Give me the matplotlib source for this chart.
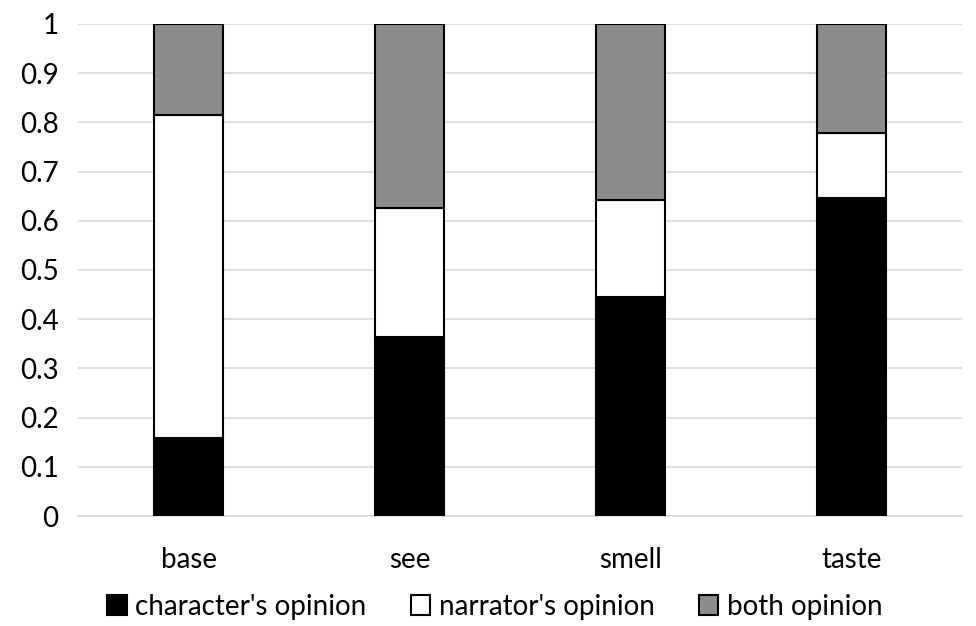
import matplotlib
matplotlib.use('Agg')
import matplotlib.pyplot as plt
import numpy as np

# values
categories = ['base', 'see', 'smell', 'taste']
character = [0.159, 0.363, 0.445, 0.646]
narrator = [0.656, 0.262, 0.197, 0.133]
both = [0.185, 0.375, 0.358, 0.221]

plt.rcParams['font.family'] = ['Lato', 'DejaVu Sans']

fig = plt.figure(figsize=(9.76, 6.26), dpi=100)
ax = fig.add_axes([0.08, 0.1757, 0.9057, 0.786])

x = np.arange(len(categories))
w = 0.31
bottom2 = np.array(character) + np.array(narrator)
ax.bar(x, character, w, color='black', edgecolor='black', linewidth=1.5,
       label="character's opinion", zorder=3)
ax.bar(x, narrator, w, bottom=character, color='white', edgecolor='black',
       linewidth=1.5, label="narrator's opinion", zorder=3)
ax.bar(x, both, w, bottom=bottom2, color='#8c8c8c', edgecolor='black',
       linewidth=1.5, label='both opinion', zorder=3)

ax.set_xlim(-0.5, len(categories) - 0.5)
ax.set_ylim(0, 1)
ax.set_yticks(np.arange(0, 1.01, 0.1))
ax.set_yticklabels(['0'] + ['%.1f' % v for v in np.arange(0.1, 0.95, 0.1)] + ['1'])
ax.set_xticks(x)
ax.set_xticklabels(categories)
ax.yaxis.grid(True, color='#d9d9d9', linewidth=1.2, zorder=0)
for s in ['top', 'right', 'left']:
    ax.spines[s].set_visible(False)
ax.spines['bottom'].set_color('#d9d9d9')
ax.spines['bottom'].set_linewidth(1.2)
ax.tick_params(axis='both', length=0, labelsize=20)
ax.tick_params(axis='y', pad=14)
ax.tick_params(axis='x', pad=22)

fig.legend(loc='lower center', ncol=3, frameon=False, fontsize=20,
           bbox_to_anchor=(0.507, -0.03), handlelength=0.7, handleheight=0.7,
           handletextpad=0.3, columnspacing=1.6)

fig.savefig('out.png', dpi=100)
